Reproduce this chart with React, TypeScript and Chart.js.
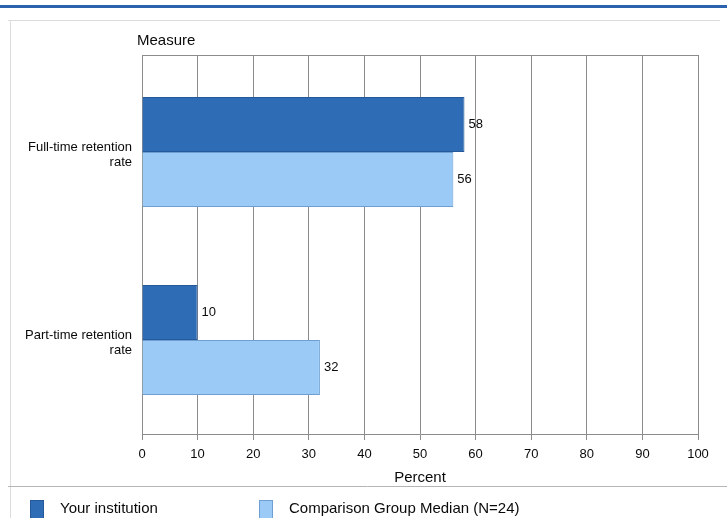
import React, { useEffect, useRef } from "react";
import { Chart, registerables } from "chart.js";

Chart.register(...registerables);

const categories: string[][] = [["Full-time retention", "rate"], ["Part-time retention", "rate"]];
const yourInstitution: number[] = [58, 10];
const comparisonMedian: number[] = [56, 32];
const seriesLabels: string[] = ["Your institution", "Comparison Group Median (N=24)"];
const xTicks: number[] = [0, 10, 20, 30, 40, 50, 60, 70, 80, 90, 100];
const xTitle = "Percent";
const yTitle = "Measure";

const FONT = "'Liberation Sans', Arial, sans-serif";
const TEXT = "#0a0a0a";
const DARK = "#2f6cb6";
const DARK_BORDER = "#25599a";
const LIGHT = "#9ccaf6";
const LIGHT_BORDER = "#6d9fd3";
const GRID = "#8c8c8c";
const FRAME_TOP = 55;

const decorPlugin = {
  id: "decor",
  beforeDraw(chart: any) {
    const ctx = chart.ctx;
    ctx.save();
    ctx.fillStyle = "#ffffff";
    ctx.fillRect(0, 0, chart.width, chart.height);
    ctx.fillStyle = "#2a62ad";
    ctx.fillRect(0, 5, chart.width, 3);
    ctx.strokeStyle = "#dcdcdc";
    ctx.lineWidth = 1;
    ctx.beginPath();
    ctx.moveTo(8, 20.5);
    ctx.lineTo(720, 20.5);
    ctx.moveTo(10.5, 20);
    ctx.lineTo(10.5, chart.height);
    ctx.stroke();
    ctx.strokeStyle = "#b5b5b5";
    ctx.beginPath();
    ctx.moveTo(8, 486.5);
    ctx.lineTo(chart.width, 486.5);
    ctx.stroke();
    ctx.restore();
  },
  afterDraw(chart: any) {
    const ctx = chart.ctx;
    const area = chart.chartArea;
    const xs = chart.scales.x;
    ctx.save();
    ctx.strokeStyle = GRID;
    ctx.lineWidth = 1;
    ctx.beginPath();
    ctx.moveTo(area.left, FRAME_TOP + 0.5);
    ctx.lineTo(area.right, FRAME_TOP + 0.5);
    xs.ticks.forEach((t: any) => {
      const px = Math.round(xs.getPixelForValue(t.value) - 0.5) + 0.5;
      ctx.moveTo(px, FRAME_TOP);
      ctx.lineTo(px, area.top);
    });
    ctx.stroke();
    ctx.fillStyle = TEXT;
    ctx.font = `15px ${FONT}`;
    ctx.textAlign = "left";
    ctx.textBaseline = "middle";
    ctx.fillText(yTitle, 137, 41);
    const lx = [30, 259];
    chart.data.datasets.forEach((ds: any, i: number) => {
      ctx.fillStyle = ds.backgroundColor;
      ctx.fillRect(lx[i], 500, 14, 18);
      ctx.strokeStyle = ds.borderColor;
      ctx.strokeRect(lx[i] + 0.5, 500.5, 13, 18);
      ctx.fillStyle = TEXT;
      ctx.font = `15px ${FONT}`;
      ctx.textBaseline = "middle";
      ctx.fillText(ds.label, lx[i] + 30, 509);
    });
    ctx.restore();
  },
  afterDatasetsDraw(chart: any) {
    const ctx = chart.ctx;
    ctx.save();
    ctx.fillStyle = TEXT;
    ctx.font = `13px ${FONT}`;
    ctx.textAlign = "left";
    ctx.textBaseline = "middle";
    chart.data.datasets.forEach((ds: any, di: number) => {
      const meta = chart.getDatasetMeta(di);
      meta.data.forEach((el: any, i: number) => {
        ctx.fillText(String(ds.data[i]), el.x + 4, el.y);
      });
    });
    ctx.restore();
  },
};

export default function App() {
  const ref = useRef<HTMLCanvasElement | null>(null);
  useEffect(() => {
    if (!ref.current) return;
    const chart = new Chart(ref.current, {
      type: "bar",
      data: {
        labels: categories as any,
        datasets: [
          {
            label: seriesLabels[0],
            data: yourInstitution,
            backgroundColor: DARK,
            borderColor: DARK_BORDER,
            borderWidth: 1,
            categoryPercentage: 0.585,
            barPercentage: 1,
          },
          {
            label: seriesLabels[1],
            data: comparisonMedian,
            backgroundColor: LIGHT,
            borderColor: LIGHT_BORDER,
            borderWidth: 1,
            categoryPercentage: 0.585,
            barPercentage: 1,
          },
        ],
      },
      options: {
        indexAxis: "y",
        responsive: false,
        animation: false,
        devicePixelRatio: 1,
        layout: { padding: { top: 58, right: 29, left: 0, bottom: 0 } },
        plugins: {
          legend: { display: false },
          tooltip: { enabled: false },
          title: { display: false },
        },
        scales: {
          x: {
            type: "linear",
            min: 0,
            max: 100,
            afterBuildTicks(scale: any) {
              scale.ticks = xTicks.map((v) => ({ value: v }));
            },
            afterFit(scale: any) {
              scale.height = 84;
            },
            ticks: {
              color: TEXT,
              font: { family: FONT, size: 13 },
              padding: 7,
              maxRotation: 0,
            },
            grid: {
              color: GRID,
              lineWidth: 1,
              drawTicks: true,
              tickLength: 6,
              tickColor: GRID,
            },
            border: { display: true, color: GRID },
            title: {
              display: true,
              text: xTitle,
              color: TEXT,
              font: { family: FONT, size: 15 },
              padding: { top: 0, bottom: 31 },
            },
          },
          y: {
            type: "category",
            afterFit(scale: any) {
              scale.width = 142;
            },
            ticks: {
              color: TEXT,
              font: { family: FONT, size: 13, lineHeight: 1.15 },
              padding: 10,
              labelOffset: 3,
            },
            grid: { display: false, drawTicks: false },
            border: { display: false },
          },
        },
      },
      plugins: [decorPlugin],
    } as any);
    return () => chart.destroy();
  }, []);
  return (
    <div style={{ position: "absolute", left: 0, top: 0, width: 727, height: 518 }}>
      <canvas ref={ref} width={727} height={518} />
    </div>
  );
}
